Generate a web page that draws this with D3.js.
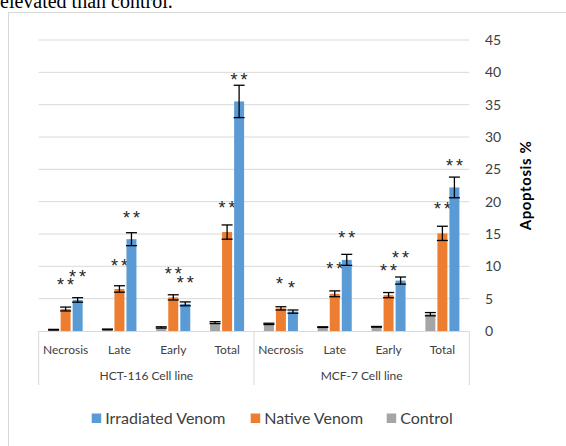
<!DOCTYPE html>
<html>
<head>
<meta charset="utf-8">
<script src="https://cdnjs.cloudflare.com/ajax/libs/d3/7.8.5/d3.min.js"></script>
<style>
  body { margin: 0; background: #fff; }
  svg { display: block; }
  text { font-family: Lato, "Open Sans", sans-serif; }
</style>
</head>
<body>
<svg id="chart" width="566" height="446"></svg>
<script>
// chart values
const cellLines = ['HCT-116 Cell line', 'MCF-7 Cell line'];
const stages = ['Necrosis', 'Late', 'Early', 'Total'];
const seriesNames = ['Control', 'Native Venom', 'Irradiated Venom'];
const legendOrder = ['Irradiated Venom', 'Native Venom', 'Control'];

// one value per cell line x stage (HCT first, then MCF)
const control    = [0.2, 0.25, 0.55, 1.3, 1.1, 0.6, 0.65, 2.6];
const controlErr = [0.05, 0.05, 0.1, 0.15, 0.1, 0.05, 0.05, 0.25];
const native     = [3.4, 6.5, 5.2, 15.3, 3.5, 5.75, 5.55, 15.1];
const nativeErr  = [0.3, 0.5, 0.4, 1.1, 0.25, 0.45, 0.4, 1.1];
const irradiated    = [4.8, 14.2, 4.2, 35.5, 3.0, 11.0, 7.8, 22.2];
const irradiatedErr = [0.35, 1.0, 0.3, 2.5, 0.25, 0.85, 0.55, 1.6];

// significance marks and the level (in % units) where they sit
const nativeStars = ['**', '**', '**', '**', '*', '**', '**', '**'];
const nativeStarAt = [7.7, 10.7, 9.5, 19.6, 7.9, 10.2, 9.9, 19.5];
const irradiatedStars = ['**', '**', '**', '**', '*', '**', '**', '**'];
const irradiatedStarAt = [9.0, 18.1, 8.1, 39.4, 7.2, 15.0, 11.9, 26.1];

const yTicks = [0, 5, 10, 15, 20, 25, 30, 35, 40, 45];

const colors = {
    'Irradiated Venom': '#5b9bd5',
    'Native Venom': '#ed7d31',
    'Control': '#a5a5a5'
};

const seriesData = {
    'Control': { values: control, err: controlErr },
    'Native Venom': { values: native, err: nativeErr, stars: nativeStars, starAt: nativeStarAt },
    'Irradiated Venom': { values: irradiated, err: irradiatedErr, stars: irradiatedStars, starAt: irradiatedStarAt }
};

const svg = d3.select('#chart');

// caption text cut off above the chart
svg.append('text')
    .attr('x', 0)
    .attr('y', 8)
    .style('font-family', '"Liberation Serif", "Times New Roman", serif')
    .style('font-size', '20px')
    .attr('fill', '#000')
    .text('elevated than control.');

// chart area frame
svg.append('rect')
    .attr('x', 8.5).attr('y', 12.5)
    .attr('width', 600).attr('height', 500)
    .attr('fill', '#fff')
    .attr('stroke', '#d9d9d9');

const plotLeft = 38.7, plotRight = 469.3;

const cats = d3.range(cellLines.length * stages.length);

const x = d3.scaleBand()
    .domain(cats)
    .range([plotLeft, plotRight])
    .paddingInner(0.368)
    .paddingOuter(0.184);

const x1 = d3.scaleBand()
    .domain(seriesNames)
    .range([0, x.bandwidth()])
    .paddingInner(0.17);

const y = d3.scaleLinear()
    .domain([0, 45])
    .range([331, 40]);

// gridlines
svg.append('g')
    .selectAll('line')
    .data(yTicks.filter(d => d > 0))
    .join('line')
    .attr('x1', plotLeft).attr('x2', plotRight)
    .attr('y1', d => y(d)).attr('y2', d => y(d))
    .attr('stroke', '#d9d9d9')
    .attr('stroke-width', 1);

// right axis labels
const yAxis = d3.axisRight(y).tickValues(yTicks).tickSize(0).tickPadding(0);
const yG = svg.append('g')
    .attr('transform', `translate(485,0)`)
    .call(yAxis);
yG.select('.domain').remove();
yG.selectAll('text')
    .style('font-family', 'Lato, sans-serif')
    .style('font-size', '14px')
    .attr('fill', '#404040');

svg.append('text')
    .attr('transform', `translate(531,185.5) rotate(-90)`)
    .attr('text-anchor', 'middle')
    .style('font-size', '15px')
    .style('font-weight', 'bold')
    .style('letter-spacing', '0.6px')
    .attr('fill', '#000')
    .text('Apoptosis %');

// bars
const barG = svg.append('g');
seriesNames.forEach(name => {
    const s = seriesData[name];
    const g = barG.append('g');
    g.selectAll('rect')
        .data(s.values)
        .join('rect')
        .attr('x', (d, i) => x(i) + x1(name))
        .attr('y', d => y(d))
        .attr('width', x1.bandwidth())
        .attr('height', d => y(0) - y(d))
        .attr('fill', colors[name]);

    // error bars
    const eb = g.selectAll('g.err')
        .data(s.values.map((v, i) => ({ v, e: s.err[i], i })))
        .join('g')
        .attr('class', 'err')
        .attr('stroke', '#000')
        .attr('stroke-width', 1.3);
    const cx = d => x(d.i) + x1(name) + x1.bandwidth() / 2;
    eb.append('line')
        .attr('x1', cx).attr('x2', cx)
        .attr('y1', d => y(d.v + d.e)).attr('y2', d => y(d.v - d.e));
    eb.append('line')
        .attr('x1', d => cx(d) - 5.5).attr('x2', d => cx(d) + 5.5)
        .attr('y1', d => y(d.v + d.e)).attr('y2', d => y(d.v + d.e));
    eb.append('line')
        .attr('x1', d => cx(d) - 5.5).attr('x2', d => cx(d) + 5.5)
        .attr('y1', d => y(d.v - d.e)).attr('y2', d => y(d.v - d.e));

    // stars
    if (s.stars) {
        g.selectAll('text.star')
            .data(s.stars.map((t, i) => ({ t, at: s.starAt[i], i })))
            .join('text')
            .attr('class', 'star')
            .attr('x', d => x(d.i) + x1(name) + x1.bandwidth() / 2 + (d.t.length > 1 ? 1.5 : 0))
            .attr('y', d => y(d.at) + 10)
            .attr('text-anchor', 'middle')
            .style('font-family', '"Liberation Sans", Arial, sans-serif')
            .style('font-size', '18px')
            .style('letter-spacing', '3px')
            .attr('fill', '#262626')
            .text(d => d.t);
    }
});

// category axis
const axisG = svg.append('g').attr('stroke', '#d9d9d9').attr('stroke-width', 1);
axisG.append('line')
    .attr('x1', plotLeft).attr('x2', plotRight)
    .attr('y1', y(0) + 0.5).attr('y2', y(0) + 0.5);
const midSplit = (x(stages.length - 1) + x.bandwidth() + x(stages.length)) / 2;
[plotLeft, midSplit, plotRight].forEach(px => {
    axisG.append('line')
        .attr('x1', px).attr('x2', px)
        .attr('y1', y(0)).attr('y2', 385);
});

svg.append('g')
    .selectAll('text')
    .data(cats)
    .join('text')
    .attr('x', d => x(d) + x.bandwidth() / 2)
    .attr('y', 354)
    .attr('text-anchor', 'middle')
    .style('font-size', '12px')
    .attr('fill', '#404040')
    .text(d => stages[d % stages.length]);

svg.append('g')
    .selectAll('text')
    .data(cellLines)
    .join('text')
    .attr('x', (d, i) => {
        const a = x(i * stages.length);
        const b = x((i + 1) * stages.length - 1) + x.bandwidth();
        return (a + b) / 2;
    })
    .attr('y', 380)
    .attr('text-anchor', 'middle')
    .style('font-size', '12px')
    .attr('fill', '#404040')
    .text(d => d);

// legend
const legendX = [91.7, 250.7, 386.7];
const legend = svg.append('g');
legendOrder.forEach((name, i) => {
    legend.append('rect')
        .attr('x', legendX[i]).attr('y', 413.5)
        .attr('width', 9.5).attr('height', 9.5)
        .attr('fill', colors[name]);
    legend.append('text')
        .attr('x', legendX[i] + 13.5)
        .attr('y', 424)
        .style('font-size', '16px')
        .attr('fill', '#404040')
        .text(name);
});
</script>
</body>
</html>
